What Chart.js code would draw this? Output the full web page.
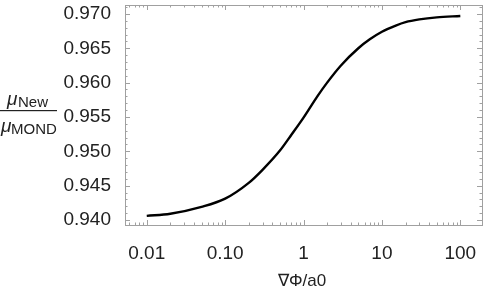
<!DOCTYPE html>
<html>
<head>
<meta charset="utf-8">
<script src="https://cdn.jsdelivr.net/npm/chart.js@4"></script>
<style>
  html, body { margin: 0; padding: 0; background: #fff; }
  #wrap { width: 491px; height: 288px; }
</style>
</head>
<body>
<div id="wrap"><canvas id="ratio-chart"></canvas></div>
<script>
// gradient / a0 against mu_New / mu_MOND
const gradValues = [0.01, 0.02, 0.05, 0.1, 0.2, 0.3, 0.5, 0.7, 1, 1.5, 2, 3, 5, 7, 10, 15, 20, 30, 50, 100];
const ratioValues = [0.9406, 0.9409, 0.9419, 0.9431, 0.9454, 0.9473, 0.9501, 0.9524, 0.9549, 0.9580,
  0.9600, 0.9625, 0.9650, 0.9663, 0.9674, 0.9683, 0.9688, 0.9692, 0.9695, 0.9697];

const xTicks = [0.01, 0.1, 1, 10, 100];
const xTickLabels = ["0.01", "0.10", "1", "10", "100"];
const yTicks = [0.940, 0.945, 0.950, 0.955, 0.960, 0.965, 0.970];
const yTickLabels = ["0.940", "0.945", "0.950", "0.955", "0.960", "0.965", "0.970"];

const frameColor = "#a0a0a0";
const font = "'Liberation Sans', Arial, sans-serif";

// frame with inward ticks on all four sides, plus axis titles
const framePlugin = {
  id: "frame",
  afterDraw(chart) {
    const ctx = chart.ctx;
    const a = chart.chartArea;
    const xs = chart.scales.x;
    const ys = chart.scales.y;
    ctx.save();
    ctx.strokeStyle = frameColor;
    ctx.lineWidth = 1;
    ctx.strokeRect(Math.round(a.left) + 0.5, Math.round(a.top) + 0.5,
      Math.round(a.right - a.left), Math.round(a.bottom - a.top));

    function xTick(v, len) {
      const px = Math.round(xs.getPixelForValue(v)) + 0.5;
      if (px < a.left || px > a.right) return;
      ctx.beginPath();
      ctx.moveTo(px, a.bottom); ctx.lineTo(px, a.bottom - len);
      ctx.moveTo(px, a.top); ctx.lineTo(px, a.top + len);
      ctx.stroke();
    }
    function yTick(v, len) {
      const py = Math.round(ys.getPixelForValue(v)) + 0.5;
      if (py < a.top || py > a.bottom) return;
      ctx.beginPath();
      ctx.moveTo(a.left, py); ctx.lineTo(a.left + len, py);
      ctx.moveTo(a.right, py); ctx.lineTo(a.right - len, py);
      ctx.stroke();
    }
    for (let d = 0.001; d < 1000; d *= 10) {
      for (let m = 2; m <= 9; m++) xTick(d * m, 2.5);
    }
    xTicks.forEach(v => xTick(v, 5));
    for (let i = 939; i <= 971; i++) {
      if (i % 5 !== 0) yTick(i / 1000, 2.5);
    }
    yTicks.forEach(v => yTick(v, 5));

    // x title
    ctx.fillStyle = "#222";
    ctx.font = "17px " + font;
    ctx.textAlign = "center";
    ctx.textBaseline = "middle";
    ctx.fillText("\u2207\u03A6/a0", 302, 281);

    // y title: fraction
    ctx.textAlign = "left";
    ctx.textBaseline = "alphabetic";
    ctx.font = "italic 19px " + font;
    ctx.fillText("\u03BC", 7, 105);
    ctx.font = "15px " + font;
    ctx.fillText("New", 18, 107);
    ctx.font = "italic 19px " + font;
    ctx.fillText("\u03BC", 1, 132);
    ctx.font = "15px " + font;
    ctx.fillText("MOND", 11, 134);
    ctx.fillRect(0, 110, 57, 1.2);
    ctx.restore();
  }
};

const ctx = document.getElementById("ratio-chart").getContext("2d");
const ratioChart = new Chart(ctx, {
  type: "line",
  data: {
    datasets: [{
      data: gradValues.map((g, i) => ({ x: g, y: ratioValues[i] })),
      borderColor: "#000",
      borderWidth: 2.4,
      pointRadius: 0,
      fill: false,
      cubicInterpolationMode: "monotone"
    }]
  },
  options: {
    responsive: true,
    maintainAspectRatio: false,
    animation: false,
    layout: { padding: { top: 5, right: 9, left: 0, bottom: 0 } },
    plugins: { legend: { display: false }, tooltip: { enabled: false } },
    scales: {
      x: {
        type: "logarithmic",
        min: 0.00528,
        max: 189,
        grid: { display: false },
        border: { display: false },
        afterBuildTicks: s => { s.ticks = xTicks.map(v => ({ value: v })); },
        afterFit: s => { s.height = 63; s.paddingLeft = 0; s.paddingRight = 0; },
        ticks: {
          autoSkip: false,
          maxRotation: 0,
          padding: 9,
          color: "#222",
          font: { family: font, size: 19 },
          callback: (v) => xTickLabels[xTicks.indexOf(v)]
        }
      },
      y: {
        min: 0.93927,
        max: 0.9713,
        grid: { display: false },
        border: { display: false },
        afterBuildTicks: s => { s.ticks = yTicks.map(v => ({ value: v })); },
        afterFit: s => { s.width = 125; s.paddingTop = 0; s.paddingBottom = 0; },
        ticks: {
          autoSkip: false,
          padding: 6,
          color: "#222",
          font: { family: font, size: 19 },
          callback: (v, i) => yTickLabels[i]
        }
      }
    }
  },
  plugins: [framePlugin]
});
</script>
</body>
</html>
